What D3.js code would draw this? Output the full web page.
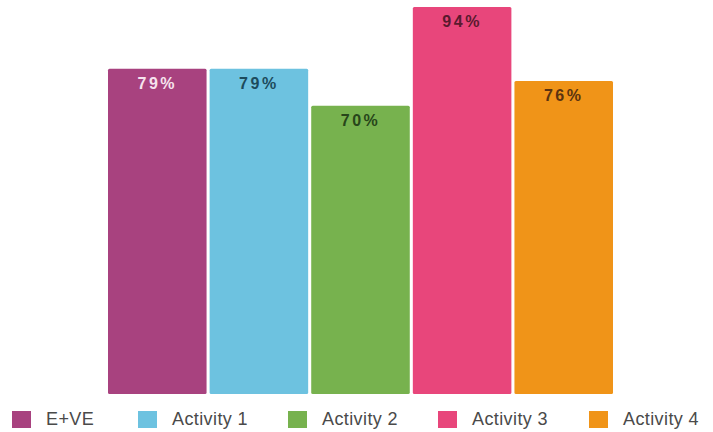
<!DOCTYPE html>
<html>
<head>
<meta charset="utf-8">
<script src="https://cdn.jsdelivr.net/npm/d3@7"></script>
<style>
  body { margin: 0; background: #fff; }
  svg { display: block; font-family: "Liberation Sans", Arial, sans-serif; }
</style>
</head>
<body>
<div id="chart"></div>
<script>
var categories = ["E+VE", "Activity 1", "Activity 2", "Activity 3", "Activity 4"];
var values = [79, 79, 70, 94, 76];
var colors = ["#a8427f", "#6dc2e0", "#77b24e", "#e8467b", "#f09418"];
var labelColors = ["#f6e3ee", "#1d4b5c", "#27461a", "#5a1a2e", "#5a3310"];

var width = 713, height = 432;

var svg = d3.select("#chart").append("svg")
    .attr("width", width)
    .attr("height", height);

var x = d3.scaleBand()
    .domain(categories)
    .range([108, 613])
    .paddingInner(0.03);

var y = d3.scaleLinear()
    .domain([0, 94])
    .range([394, 7]);

var bars = svg.selectAll("g.bar")
    .data(categories)
    .enter().append("g")
    .attr("class", "bar");

bars.append("rect")
    .attr("x", function(d) { return x(d); })
    .attr("y", function(d, i) { return y(values[i]); })
    .attr("width", x.bandwidth())
    .attr("height", function(d, i) { return y(0) - y(values[i]); })
    .attr("rx", 1.5)
    .attr("fill", function(d, i) { return colors[i]; });

bars.append("text")
    .attr("x", function(d) { return x(d) + x.bandwidth() / 2; })
    .attr("y", function(d, i) { return y(values[i]) + 20; })
    .attr("text-anchor", "middle")
    .style("font-size", "16px")
    .style("font-weight", "bold")
    .style("letter-spacing", "2.5px")
    .attr("fill", function(d, i) { return labelColors[i]; })
    .text(function(d, i) { return values[i] + "%"; });

// legend
var legendX = [12, 138, 288, 438, 589];
var legend = svg.selectAll("g.legend")
    .data(categories)
    .enter().append("g")
    .attr("class", "legend")
    .attr("transform", function(d, i) { return "translate(" + legendX[i] + ",411)"; });

legend.append("rect")
    .attr("width", 19)
    .attr("height", 17)
    .attr("fill", function(d, i) { return colors[i]; });

legend.append("text")
    .attr("x", 34)
    .attr("y", 14)
    .style("font-size", "18px")
    .style("letter-spacing", "0.4px")
    .attr("fill", "#4a4a4a")
    .text(function(d) { return d; });
</script>
</body>
</html>
